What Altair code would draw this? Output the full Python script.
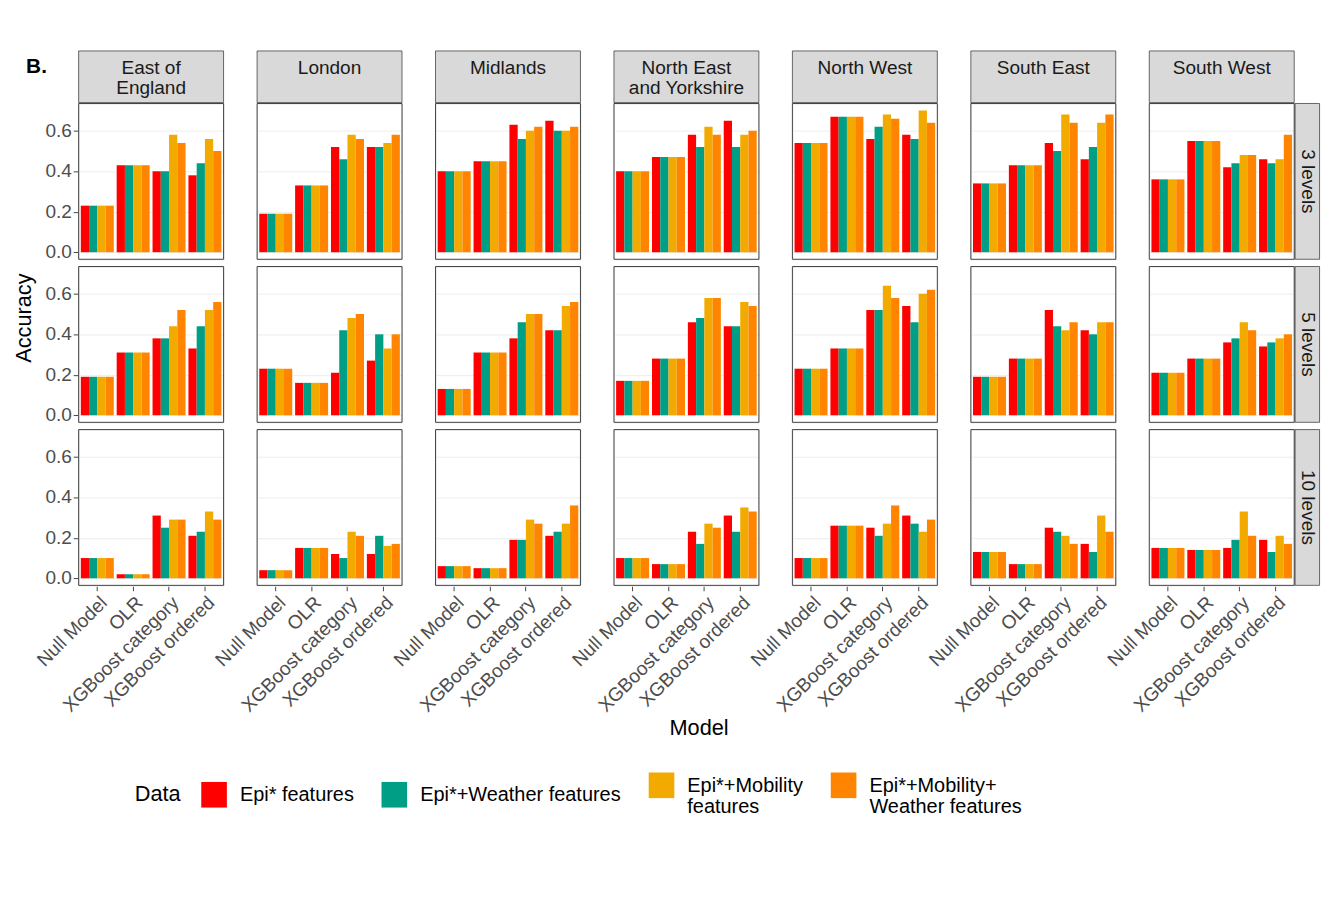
import altair as alt
import pandas as pd

regions = ["East of England", "London", "Midlands", "North East and Yorkshire",
           "North West", "South East", "South West"]
region_labels = ["East of\nEngland", "London", "Midlands", "North East\nand Yorkshire",
                 "North West", "South East", "South West"]
levels = ["3 levels", "5 levels", "10 levels"]
models = ["Null Model", "OLR", "XGBoost category", "XGBoost ordered"]
datasets = ["Epi* features", "Epi*+Weather features", "Epi*+Mobility features",
            "Epi*+Mobility+Weather features"]
colors = ["#FF0000", "#009E85", "#F2AA00", "#FF8500"]

# accuracy[level][region] -> per model: [Epi, +Weather, +Mobility, +Mobility+Weather]
acc_3 = {
    "East of England": [[.23] * 4, [.43] * 4, [.40, .40, .58, .54], [.38, .44, .56, .50]],
    "London": [[.19] * 4, [.33] * 4, [.52, .46, .58, .56], [.52, .52, .54, .58]],
    "Midlands": [[.40] * 4, [.45] * 4, [.63, .56, .60, .62], [.65, .60, .60, .62]],
    "North East and Yorkshire": [[.40] * 4, [.47] * 4, [.58, .52, .62, .58], [.65, .52, .58, .60]],
    "North West": [[.54] * 4, [.67] * 4, [.56, .62, .68, .66], [.58, .56, .70, .64]],
    "South East": [[.34] * 4, [.43] * 4, [.54, .50, .68, .64], [.46, .52, .64, .68]],
    "South West": [[.36] * 4, [.55] * 4, [.42, .44, .48, .48], [.46, .44, .46, .58]],
}
acc_5 = {
    "East of England": [[.19] * 4, [.31] * 4, [.38, .38, .44, .52], [.33, .44, .52, .56]],
    "London": [[.23] * 4, [.16] * 4, [.21, .42, .48, .50], [.27, .40, .33, .40]],
    "Midlands": [[.13] * 4, [.31] * 4, [.38, .46, .50, .50], [.42, .42, .54, .56]],
    "North East and Yorkshire": [[.17] * 4, [.28] * 4, [.46, .48, .58, .58], [.44, .44, .56, .54]],
    "North West": [[.23] * 4, [.33] * 4, [.52, .52, .64, .58], [.54, .46, .60, .62]],
    "South East": [[.19] * 4, [.28] * 4, [.52, .44, .42, .46], [.42, .40, .46, .46]],
    "South West": [[.21] * 4, [.28] * 4, [.36, .38, .46, .42], [.34, .36, .38, .40]],
}
acc_10 = {
    "East of England": [[.10] * 4, [.02] * 4, [.31, .25, .29, .29], [.21, .23, .33, .29]],
    "London": [[.04] * 4, [.15] * 4, [.12, .10, .23, .21], [.12, .21, .16, .17]],
    "Midlands": [[.06] * 4, [.05] * 4, [.19, .19, .29, .27], [.21, .23, .27, .36]],
    "North East and Yorkshire": [[.10] * 4, [.07] * 4, [.23, .17, .27, .25], [.31, .23, .35, .33]],
    "North West": [[.10] * 4, [.26] * 4, [.25, .21, .27, .36], [.31, .27, .23, .29]],
    "South East": [[.13] * 4, [.07] * 4, [.25, .23, .21, .17], [.17, .13, .31, .23]],
    "South West": [[.15] * 4, [.14] * 4, [.15, .19, .33, .21], [.19, .13, .21, .17]],
}

rows = []
for lev, table in zip(levels, [acc_3, acc_5, acc_10]):
    for reg, lab in zip(regions, region_labels):
        for m, vals in zip(models, table[reg]):
            for d, v in zip(datasets, vals):
                rows.append({"level": lev, "region": reg, "region_label": lab,
                             "model": m, "data": d, "accuracy": v})
df = pd.DataFrame(rows)

W, H = 160, 172
FONT = "Liberation Sans"

bars = alt.Chart().mark_bar().encode(
    x=alt.X("model:N", sort=models, title=None,
            scale=alt.Scale(paddingInner=0.08, paddingOuter=0.06),
            axis=alt.Axis(labelAngle=-45, labelFontSize=21, labelColor="#4d4d4d",
                          labelAlign="right", labelBaseline="top",
                          gridColor="#ebebeb", bandPosition=0.5, tickColor="#333",
                          domain=False)),
    xOffset=alt.XOffset("data:N", sort=datasets, scale=alt.Scale(paddingInner=0)),
    y=alt.Y("accuracy:Q", title=None,
            scale=alt.Scale(domain=[-0.035, 0.735], nice=False),
            axis=alt.Axis(values=[0, 0.2, 0.4, 0.6], format=".1f", labelFontSize=21,
                          labelColor="#4d4d4d", gridColor="#ebebeb", tickColor="#333",
                          domain=False)),
    color=alt.Color("data:N", sort=datasets,
                    scale=alt.Scale(domain=datasets, range=colors),
                    legend=alt.Legend(title="Data", orient="none", direction="horizontal",
                                      legendX=62, legendY=3 * H + 12 + 210,
                                      titleFontSize=24, titleFontWeight="normal",
                                      titleOrient="left", titleColor="black",
                                      titlePadding=22,
                                      labelFontSize=22, labelColor="black",
                                      symbolType="square", symbolSize=800,
                                      symbolStrokeWidth=0, columnPadding=30,
                                      labelLimit=300, labelOffset=14,
                                      labelExpr="datum.label == 'Epi*+Mobility features' ? ['Epi*+Mobility', 'features'] : datum.label == 'Epi*+Mobility+Weather features' ? ['Epi*+Mobility+', 'Weather features'] : datum.label")),
)

one = (alt.datum.model == "Null Model") & (alt.datum.data == "Epi* features")

frame = alt.Chart().mark_rect(fillOpacity=0, stroke="#333", strokeWidth=1).encode(
    x=alt.value(0), x2=alt.value(W), y=alt.value(0), y2=alt.value(H)
).transform_filter(one)

top_box = alt.Chart().mark_rect(fill="#d9d9d9", stroke="#333", strokeWidth=0.8).encode(
    x=alt.value(0), x2=alt.value(W), y=alt.value(-58), y2=alt.value(-1)
).transform_filter(one & (alt.datum.level == "3 levels"))

top_text = alt.Chart().mark_text(fontSize=21, font=FONT, color="#1a1a1a",
                                 lineBreak="\n", baseline="middle").encode(
    x=alt.value(W / 2), y=alt.value(-39), text="region_label:N"
).transform_filter(one & (alt.datum.level == "3 levels"))

side_box = alt.Chart().mark_rect(fill="#d9d9d9", stroke="#333", strokeWidth=0.8).encode(
    x=alt.value(W + 1), x2=alt.value(W + 28), y=alt.value(0), y2=alt.value(H)
).transform_filter(one & (alt.datum.region == "South West"))

side_text = alt.Chart().mark_text(fontSize=21, font=FONT, color="#1a1a1a",
                                  angle=90, baseline="middle").encode(
    x=alt.value(W + 15), y=alt.value(H / 2), text="level:N"
).transform_filter(one & (alt.datum.region == "South West"))

chart = alt.layer(bars, frame, top_box, top_text, side_box, side_text, data=df).properties(
    width=W, height=H
).facet(
    column=alt.Column("region:N", sort=regions,
                      header=alt.Header(labels=False, title="Model", titleOrient="bottom",
                                        titleFontSize=24, titleFontWeight="normal",
                                        titleColor="black", titlePadding=-8)),
    row=alt.Row("level:N", sort=levels,
                header=alt.Header(labels=False, title="Accuracy", titleOrient="left",
                                  titleFontSize=24, titleFontWeight="normal",
                                  titleColor="black", titlePadding=0)),
    spacing={"column": 7, "row": 6},
).configure_view(stroke=None).configure(
    font=FONT
).properties(
    padding={"left": 5, "top": 2, "right": 5, "bottom": 5},
    title=alt.TitleParams("B.", anchor="start", fontSize=23, fontWeight="bold",
                          offset=-30, dx=14, color="black")
)

chart.save("out.html", embed_options={"renderer": "svg", "actions": False})
